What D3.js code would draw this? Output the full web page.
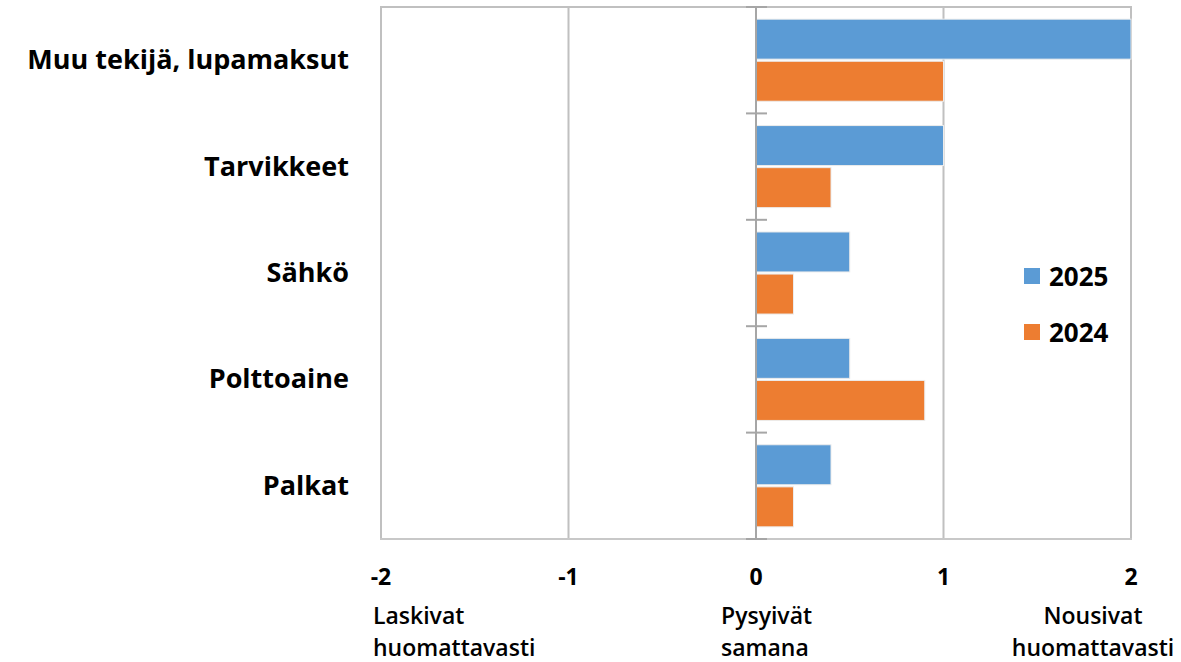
<!DOCTYPE html>
<html>
<head>
<meta charset="utf-8">
<script src="https://cdn.jsdelivr.net/npm/d3@7"></script>
<style>
  html, body { margin: 0; padding: 0; background: #ffffff; }
  svg { display: block; }
  text { font-family: "Open Sans", "Noto Sans", "DejaVu Sans", sans-serif; fill: #000; }
</style>
</head>
<body>
<svg id="chart" width="1181" height="662"></svg>
<script>
// Cost categories, top to bottom
const categories = ["Muu tekijä, lupamaksut", "Tarvikkeet", "Sähkö", "Polttoaine", "Palkat"];
// Series (legend order)
const seriesNames = ["2025", "2024"];
const values2025 = [2.0, 1.0, 0.5, 0.5, 0.4];
const values2024 = [1.0, 0.4, 0.2, 0.9, 0.2];
const seriesColors = ["#5B9BD5", "#ED7D31"];
// X axis ticks and descriptive scale labels
const xTicks = [-2, -1, 0, 1, 2];
const scaleNotes = [
  { value: -2, lines: ["Laskivat", "huomattavasti"], anchor: "start", dx: -8 },
  { value: 0, lines: ["Pysyivät", "samana"], anchor: "start", dx: -35 },
  { value: 2, lines: ["Nousivat", "huomattavasti"], anchor: "middle", dx: -38 }
];

const seriesValues = { "2025": values2025, "2024": values2024 };

const svg = d3.select("#chart");
const plot = { left: 381, right: 1131, top: 7, bottom: 539 };

const x = d3.scaleLinear().domain([-2, 2]).range([plot.left, plot.right]);
const y = d3.scaleBand().domain(categories).range([plot.top, plot.bottom]).paddingInner(0).paddingOuter(0);
const ySub = d3.scaleBand().domain(seriesNames).range([0, y.bandwidth()])
  .paddingInner(0.05).paddingOuter(0.289);

// Vertical gridlines
svg.append("g").selectAll("line")
  .data(xTicks.filter(d => d !== 0))
  .join("line")
  .attr("x1", d => x(d)).attr("x2", d => x(d))
  .attr("y1", plot.top).attr("y2", plot.bottom)
  .attr("stroke", "#c0c0c0").attr("stroke-width", 2);

// Plot border top & bottom
svg.append("line")
  .attr("x1", plot.left - 1).attr("x2", plot.right + 1)
  .attr("y1", plot.top).attr("y2", plot.top)
  .attr("stroke", "#c0c0c0").attr("stroke-width", 2);
svg.append("line")
  .attr("x1", plot.left - 1).attr("x2", plot.right + 1)
  .attr("y1", plot.bottom).attr("y2", plot.bottom)
  .attr("stroke", "#c8c8c8").attr("stroke-width", 2);

// Bars
const rows = categories.map((c, i) => ({ cat: c, i }));
const groups = svg.append("g").selectAll("g")
  .data(rows).join("g")
  .attr("transform", d => `translate(0,${y(d.cat)})`);

groups.selectAll("rect")
  .data(d => seriesNames.map((s, k) => ({ s, k, v: seriesValues[s][d.i] })))
  .join("rect")
  .attr("x", d => Math.min(x(0), x(d.v)))
  .attr("width", d => Math.abs(x(d.v) - x(0)))
  .attr("y", d => ySub(d.s))
  .attr("height", ySub.bandwidth())
  .attr("fill", d => seriesColors[d.k])
  .attr("stroke", "#ececec").attr("stroke-width", 1);

// Category axis at zero, with tick marks between categories
const yAxisG = svg.append("g").attr("transform", `translate(${x(0)},0)`);
yAxisG.append("line")
  .attr("x1", 0).attr("x2", 0)
  .attr("y1", plot.top).attr("y2", plot.bottom)
  .attr("stroke", "#a6a6a6").attr("stroke-width", 2);
const boundaries = categories.map(c => y(c)).concat([plot.bottom]);
yAxisG.selectAll("line.tick")
  .data(boundaries).join("line").attr("class", "tick")
  .attr("x1", -10).attr("x2", 11)
  .attr("y1", d => d).attr("y2", d => d)
  .attr("stroke", "#a6a6a6").attr("stroke-width", 2);

// Category labels on the left
svg.append("g").selectAll("text")
  .data(categories).join("text")
  .attr("x", 349)
  .attr("y", d => y(d) + y.bandwidth() / 2 + 9)
  .attr("text-anchor", "end")
  .attr("font-size", 27)
  .attr("font-weight", "bold")
  .text(d => d);

// X tick labels
svg.append("g").selectAll("text")
  .data(xTicks).join("text")
  .attr("x", d => x(d))
  .attr("y", 585)
  .attr("text-anchor", "middle")
  .attr("font-size", 23)
  .attr("font-weight", "bold")
  .text(d => d);

// Descriptive scale labels
const notes = svg.append("g").selectAll("text")
  .data(scaleNotes).join("text")
  .attr("font-size", 23)
  .attr("font-weight", 600)
  .attr("text-anchor", d => d.anchor);
notes.selectAll("tspan")
  .data(d => d.lines.map((l, j) => ({ l, j, d })))
  .join("tspan")
  .attr("x", t => x(t.d.value) + t.d.dx)
  .attr("y", t => 624 + t.j * 32)
  .text(t => t.l);

// Legend
const legend = svg.append("g").selectAll("g")
  .data(seriesNames).join("g")
  .attr("transform", (d, i) => `translate(1024,${268 + i * 56})`);
legend.append("rect")
  .attr("width", 16).attr("height", 16)
  .attr("fill", (d, i) => seriesColors[i]);
legend.append("text")
  .attr("x", 25).attr("y", 18)
  .attr("font-size", 26)
  .attr("font-weight", "bold")
  .text(d => d);
</script>
</body>
</html>
